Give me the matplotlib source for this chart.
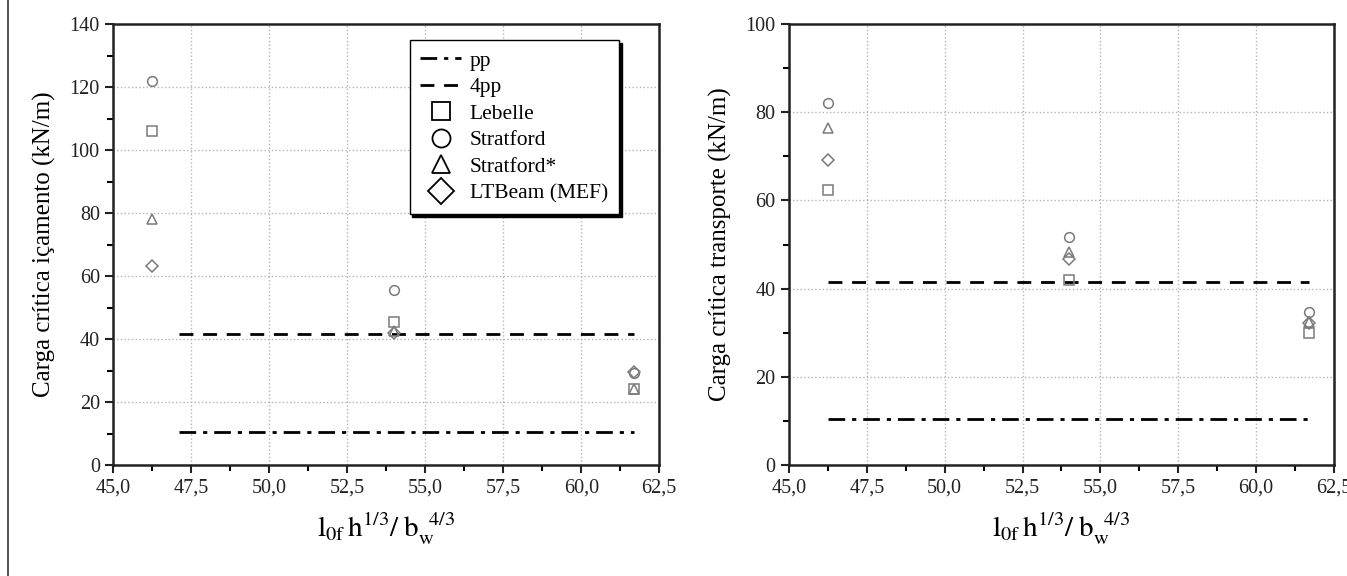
import matplotlib.pyplot as plt
from matplotlib.lines import Line2D
from matplotlib.ticker import MultipleLocator, FuncFormatter

plt.rcParams['font.family'] = 'Liberation Serif'
plt.rcParams['mathtext.fontset'] = 'stix'

x = [46.25, 54.0, 61.7]
x_line_ic = [47.1, 61.7]
x_line_tr = [46.25, 61.7]
pp = 10.4
pp4 = 41.6

# carga crítica de içamento
ic_lebelle = [106.0, 45.4, 24.0]
ic_stratford = [121.8, 55.6, 29.3]
ic_stratford_s = [78.0, 42.5, 24.1]
ic_ltbeam = [63.2, 41.9, 29.5]

# carga crítica de transporte
tr_lebelle = [62.3, 42.0, 30.0]
tr_stratford = [82.2, 51.7, 34.8]
tr_stratford_s = [76.4, 48.3, 32.5]
tr_ltbeam = [69.1, 46.7, 32.2]

series_names = ['Lebelle', 'Stratford', 'Stratford*', 'LTBeam (MEF)']
markers = ['s', 'o', '^', 'D']
gray = '#7a7a7a'

fig = plt.figure(figsize=(13.47, 5.76), dpi=100)
ax1 = fig.add_axes([0.0839, 0.1927, 0.4055, 0.7656])
ax2 = fig.add_axes([0.5857, 0.1927, 0.4046, 0.7656])

# moldura à esquerda
fig.add_artist(Line2D([0.006, 0.006], [0, 1], color='#333333', lw=1.2, transform=fig.transFigure))

comma = FuncFormatter(lambda v, p: '{:.1f}'.format(v).replace('.', ','))

def draw(ax, data, x_line, ymax, ylabel):
    ax.plot(x_line, [pp, pp], color='black', lw=2, ls=(0, (6, 2.5, 1.5, 2.5)))
    ax.plot(x_line, [pp4, pp4], color='black', lw=2, ls=(0, (5, 3.5)))
    for vals, m in zip(data, markers):
        ms = 6 if m == 'D' else 7
        ax.plot(x, vals, ls='none', marker=m, ms=ms, mfc='none', mec=gray, mew=1.1)
    ax.set_xlim(45, 62.5)
    ax.set_ylim(0, ymax)
    ax.xaxis.set_major_locator(MultipleLocator(2.5))
    ax.xaxis.set_minor_locator(MultipleLocator(1.25))
    ax.yaxis.set_major_locator(MultipleLocator(20))
    ax.yaxis.set_minor_locator(MultipleLocator(10))
    ax.xaxis.set_major_formatter(comma)
    ax.tick_params(which='major', direction='out', length=6, width=1.5, labelsize=14.5, colors='#222222')
    ax.tick_params(which='minor', direction='out', length=4, width=1.5)
    ax.grid(True, which='major', ls=':', color='#b4b4b4', lw=1)
    for s in ax.spines.values():
        s.set_linewidth(1.8)
        s.set_color('#222222')
    ax.set_ylabel(ylabel, fontsize=18, labelpad=10)
    ax.set_xlabel(r'$\mathrm{l_{0f}\,h^{1/3}/\;b_{w}^{\ \ 4/3}}$', fontsize=21, labelpad=10)

draw(ax1, [ic_lebelle, ic_stratford, ic_stratford_s, ic_ltbeam], x_line_ic, 140,
     'Carga crítica içamento (kN/m)')
draw(ax2, [tr_lebelle, tr_stratford, tr_stratford_s, tr_ltbeam], x_line_tr, 100,
     'Carga crítica transporte (kN/m)')

handles = [Line2D([], [], color='black', lw=2, ls=(0, (6, 2.5, 1.5, 2.5))),
           Line2D([], [], color='black', lw=2, ls=(0, (5, 3.5)))]
for m in markers:
    handles.append(Line2D([], [], ls='none', marker=m, ms=13, mfc='none', mec='black', mew=1.3))
leg = ax1.legend(handles, ['pp', '4pp'] + series_names, loc='upper left',
                 bbox_to_anchor=(0.543, 0.964), borderaxespad=0, fontsize=15.5,
                 fancybox=False, edgecolor='black', framealpha=1, labelspacing=0.3,
                 handlelength=1.9, handletextpad=0.4, borderpad=0.5,
                 shadow={'color': 'black', 'alpha': 1})
leg.get_frame().set_linewidth(1.0)

fig.savefig('out.png', dpi=100)
